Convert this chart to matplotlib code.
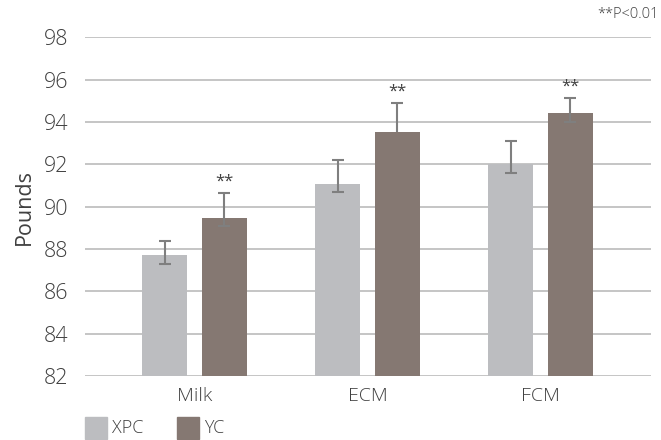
import matplotlib
matplotlib.use("Agg")
import matplotlib.pyplot as plt
import numpy as np
from matplotlib.patches import Rectangle

plt.rcParams['font.family'] = ['Open Sans', 'DejaVu Sans']
plt.rcParams['font.weight'] = 'light'

categories = ["Milk", "ECM", "FCM"]
series = ["XPC", "YC"]
xpc_values = [87.72, 91.07, 92.0]
xpc_err_low = [0.43, 0.39, 0.40]
xpc_err_high = [0.66, 1.13, 1.12]
yc_values = [89.45, 93.53, 94.44]
yc_err_low = [0.35, 0.0, 0.43]
yc_err_high = [1.20, 1.38, 0.71]
sig_labels = ["**", "**", "**"]
yticks = [82, 84, 86, 88, 90, 92, 94, 96, 98]

c_xpc = "#BCBDC0"
c_yc = "#857872"
c_err = "#7F7F7F"
c_grid = "#C0C0C0"
c_text = "#404040"

fig = plt.figure(figsize=(6.61, 4.40), dpi=100)
ax = fig.add_axes([85/661, (440-376)/440, (651-85)/661, (376-37.3)/440])

x = np.array([0.0, 1.0, 2.0])
w = 0.26
off = 0.172
cap = 0.035
ax.bar(x - off, xpc_values, width=w, color=c_xpc, zorder=2)
ax.bar(x + off, yc_values, width=w, color=c_yc, zorder=2)


def draw_err(xs, vals, lo, hi):
    for xi, v, l, h in zip(xs, vals, lo, hi):
        ax.vlines(xi, v - l, v + h, color=c_err, linewidth=1.5, zorder=3)
        for e, sgn in ((h, 1), (l, -1)):
            if e > 0:
                ax.hlines(v + sgn * e, xi - cap, xi + cap, color=c_err, linewidth=1.5, zorder=3)


draw_err(x - off, xpc_values, xpc_err_low, xpc_err_high)
draw_err(x + off, yc_values, yc_err_low, yc_err_high)

for xi, v, e, s in zip(x + off, yc_values, yc_err_high, sig_labels):
    ax.text(xi, v + e + 0.52, s, ha='center', va='center', fontsize=12,
            color=c_text, fontweight='normal')

ax.set_ylim(82, 98)
ax.set_xlim(-0.634, 2.639)
ax.set_yticks(yticks)
ax.set_yticklabels([str(t) for t in yticks], fontsize=15.5, color=c_text)
ax.set_xticks(x)
ax.set_xticklabels(categories, fontsize=14, color=c_text)
ax.tick_params(axis='both', length=0)
ax.tick_params(axis='y', pad=12)
ax.tick_params(axis='x', pad=8)
ax.yaxis.grid(True, color=c_grid, linewidth=1.3, zorder=0)
ax.set_axisbelow(True)
for sp in ax.spines.values():
    sp.set_visible(False)
ax.set_ylabel("Pounds", fontsize=15.5, color=c_text, labelpad=6)

fig.text(659/661, 1 - 14/440, "**P<0.01", ha='right', va='center', fontsize=10.5, color=c_text)

# legend
for sx, label, col in [(85, series[0], c_xpc), (177, series[1], c_yc)]:
    fig.patches.append(Rectangle((sx/661, (440-439)/440), 22/661, 22/440,
                                 transform=fig.transFigure, color=col, figure=fig))
    fig.text((sx + 27)/661, 1 - 428/440, label, ha='left', va='center', fontsize=13, color=c_text)

fig.savefig("out.png", dpi=100)
